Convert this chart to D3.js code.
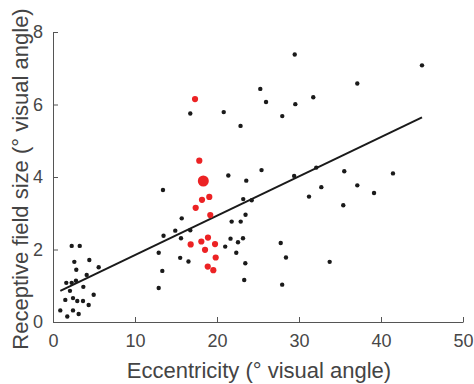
<!DOCTYPE html>
<html>
<head>
<meta charset="utf-8">
<script src="https://cdn.jsdelivr.net/npm/d3@7"></script>
<style>
  body { margin: 0; background: #fff; }
  .axis text { font-family: "Liberation Sans", Arial, sans-serif; font-size: 18px; fill: #474747; }
  .axis path, .axis line { stroke: #555; }
  .axisText { font-family: "Liberation Sans", Arial, sans-serif; font-size: 22px; fill: #444; }
</style>
</head>
<body>
<div class="chart"></div>
<script>
var svgWidth = 474;
var svgHeight = 384;

var margin = { top: 32, right: 11, bottom: 62, left: 53 };
var width = svgWidth - margin.left - margin.right;
var height = svgHeight - margin.top - margin.bottom;

// black points: eccentricity / receptive field size
var blackEcc = [2.28, 3.26, 2.60, 4.43, 2.84, 5.57, 4.11, 1.62, 2.28, 2.80, 3.70, 2.07, 4.96, 1.50, 2.44,
  2.96, 3.66, 4.35, 0.89, 2.44, 3.13, 1.74,
  16.74, 20.82, 22.87, 21.38, 13.41, 15.70, 21.79, 22.89, 14.91, 16.74, 13.48, 15.61, 21.65, 23.17,
  22.56, 21.00, 12.89, 22.35, 15.51, 16.52, 13.33, 12.89, 23.57, 23.20, 24.23, 23.48, 23.45, 23.32,
  25.43, 29.41, 27.77, 28.41, 27.95, 29.48, 45.00, 37.11, 25.28, 25.98, 29.55, 31.74, 27.96, 32.11,
  35.52, 41.46, 37.11, 32.72, 39.15, 31.22, 35.40, 33.74];
var blackSize = [2.10, 2.10, 1.66, 1.71, 1.44, 1.51, 1.30, 1.08, 1.08, 1.14, 0.97, 0.86, 0.75, 0.61, 0.66,
  0.58, 0.58, 0.47, 0.32, 0.32, 0.22, 0.15,
  5.75, 5.79, 5.41, 4.04, 3.64, 2.86, 2.77, 2.77, 2.52, 2.53, 2.38, 2.31, 2.30, 2.31,
  2.20, 2.08, 1.91, 1.91, 1.77, 1.67, 1.41, 0.94, 3.90, 3.39, 3.36, 2.96, 1.62, 1.16,
  4.19, 4.03, 2.18, 1.78, 1.03, 7.38, 7.08, 6.58, 6.43, 6.07, 6.01, 6.20, 5.68, 4.26,
  4.16, 4.10, 3.77, 3.72, 3.56, 3.46, 3.22, 1.66];

// red points
var redEcc = [17.32, 17.84, 18.17, 19.06, 17.40, 19.18, 18.90, 18.09, 16.79, 19.76, 18.54, 19.84, 18.87, 19.55];
var redSize = [6.15, 4.45, 3.37, 3.45, 3.15, 2.95, 2.33, 2.22, 2.14, 2.15, 1.99, 1.78, 1.53, 1.43];

// highlighted (mean) red point
var meanEcc = [18.33];
var meanSize = [3.89];

// linear fit
var fitIntercept = 0.76;
var fitSlope = 0.1085;

var xTicks = [0, 10, 20, 30, 40, 50];
var yTicks = [0, 2, 4, 6, 8];

var svg = d3.select(".chart")
  .append("svg")
  .attr("width", svgWidth)
  .attr("height", svgHeight);

var chartGroup = svg.append("g")
  .attr("transform", `translate(${margin.left}, ${margin.top})`);

var xLinearScale = d3.scaleLinear().domain([0, 50]).range([0, width]);
var yLinearScale = d3.scaleLinear().domain([0, 8]).range([height, 0]);

var bottomAxis = d3.axisBottom(xLinearScale).tickValues(xTicks).tickSizeInner(-5).tickSizeOuter(0).tickPadding(12);
var leftAxis = d3.axisLeft(yLinearScale).tickValues(yTicks).tickSizeInner(-5).tickSizeOuter(0).tickPadding(10);

chartGroup.append("g")
  .attr("class", "axis")
  .attr("transform", `translate(0, ${height})`)
  .call(bottomAxis);

chartGroup.append("g")
  .attr("class", "axis")
  .call(leftAxis);

var black = blackEcc.map((e, i) => ({ x: e, y: blackSize[i] }));
var red = redEcc.map((e, i) => ({ x: e, y: redSize[i] }));
var mean = meanEcc.map((e, i) => ({ x: e, y: meanSize[i] }));

chartGroup.selectAll(".black")
  .data(black)
  .enter()
  .append("circle")
  .attr("cx", d => xLinearScale(d.x))
  .attr("cy", d => yLinearScale(d.y))
  .attr("r", 2.2)
  .attr("fill", "#1a1a1a");

// fit line spans the data range
var xMin = d3.min(blackEcc.concat(redEcc));
var xMax = d3.max(blackEcc.concat(redEcc));
chartGroup.append("line")
  .attr("x1", xLinearScale(xMin))
  .attr("y1", yLinearScale(fitIntercept + fitSlope * xMin))
  .attr("x2", xLinearScale(xMax))
  .attr("y2", yLinearScale(fitIntercept + fitSlope * xMax))
  .attr("stroke", "#1a1a1a")
  .attr("stroke-width", 2);

chartGroup.selectAll(".red")
  .data(red)
  .enter()
  .append("circle")
  .attr("cx", d => xLinearScale(d.x))
  .attr("cy", d => yLinearScale(d.y))
  .attr("r", 3.1)
  .attr("fill", "#ec2224");

chartGroup.selectAll(".mean")
  .data(mean)
  .enter()
  .append("circle")
  .attr("cx", d => xLinearScale(d.x))
  .attr("cy", d => yLinearScale(d.y))
  .attr("r", 5.5)
  .attr("fill", "#ec2224");

// axes labels
chartGroup.append("text")
  .attr("class", "axisText")
  .attr("text-anchor", "middle")
  .attr("transform", `translate(${width / 2 + 1}, ${height + 56})`)
  .text("Eccentricity (° visual angle)");

chartGroup.append("text")
  .attr("class", "axisText")
  .attr("text-anchor", "middle")
  .attr("transform", `translate(${-margin.left + 28}, ${height / 2 + 2}) rotate(-90)`)
  .text("Receptive field size (° visual angle)");
</script>
</body>
</html>
